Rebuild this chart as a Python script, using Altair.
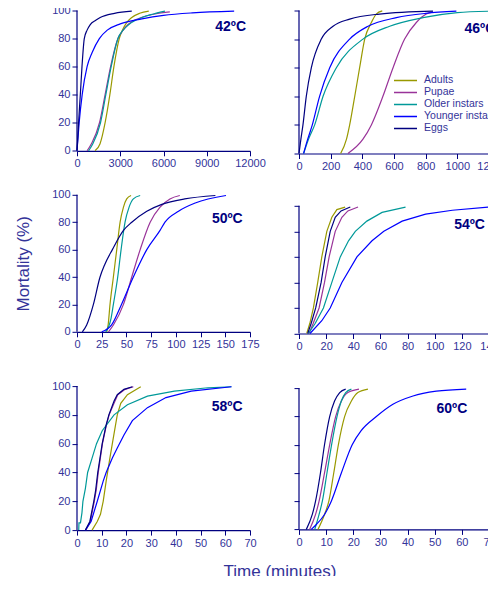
import altair as alt
import pandas as pd

STAGES = ["Adults", "Pupae", "Older instars", "Younger instars", "Eggs"]
STAGE_COLORS = ["#999900", "#993399", "#009999", "#0000FF", "#000080"]

# ---- 42 C (time in minutes) ----
P42_ADULTS = [(1250, 0), (1600, 5), (1950, 20), (2280, 40), (2560, 60), (2930, 80), (3150, 86), (3420, 91), (3800, 95), (4350, 98), (4980, 99.5)]
P42_PUPAE = [(700, 0), (1000, 5), (1560, 20), (1950, 40), (2330, 60), (2840, 80), (3200, 86), (3540, 90), (4460, 95), (5400, 97.5), (6440, 99)]
P42_OLDER = [(800, 0), (1100, 5), (1630, 20), (2000, 40), (2370, 60), (2840, 80), (3200, 86), (3600, 90), (4500, 95), (5300, 97.5), (6100, 99.5)]
P42_YOUNGER = [(0, 0), (150, 20), (360, 40), (700, 60), (1050, 70), (1550, 80), (2100, 86), (3000, 90.5), (4500, 94), (6000, 96.5), (8000, 98.3), (10900, 99.5)]
P42_EGGS = [(0, 0), (60, 10), (110, 20), (230, 40), (346, 60), (505, 80), (700, 86), (920, 90), (1300, 93), (1610, 95), (2600, 98), (3800, 99.5)]

# ---- 46 C ----
P46_ADULTS = [(263, 0), (300, 10), (320, 20), (352, 40), (383, 60), (415, 80), (457, 91.6), (488, 97.5), (526, 99.7)]
P46_PUPAE = [(309, 0), (404, 10), (457, 20), (530, 40), (594, 60), (667, 80), (741, 91.6), (804, 97.5), (846, 99)]
P46_OLDER = [(29, 0), (60, 10), (99, 20), (152, 40), (236, 60), (404, 80), (573, 89), (783, 95), (1000, 98.5), (1200, 99.5)]
P46_YOUNGER = [(29, 0), (55, 10), (84, 20), (130, 40), (194, 60), (320, 80), (436, 89), (615, 95), (800, 98), (994, 99.5)]
P46_EGGS = [(0, 0), (12, 10), (25, 20), (46, 40), (78, 60), (141, 80), (215, 89), (320, 94), (509, 97.5), (846, 99.5)]

# ---- 50 C ----
P50_ADULTS = [(30, 0), (31.5, 5), (33.4, 20), (36.8, 40), (40.2, 60), (43.6, 80), (47, 91), (50.3, 97), (54.7, 99.5)]
P50_PUPAE = [(31.8, 0), (36.8, 5), (47, 20), (55.4, 40), (63.9, 60), (74, 80), (84, 91), (94, 97), (104, 99.5)]
P50_OLDER = [(29, 0), (34.5, 10), (36.8, 20), (41.2, 40), (44.6, 60), (48.6, 80), (52.7, 91), (57, 97), (63.9, 99.5)]
P50_YOUNGER = [(25, 0), (35, 5), (45, 20), (57, 40), (70.6, 60), (84, 74), (89, 80), (102.7, 88), (119.6, 94), (150.7, 99.5)]
P50_EGGS = [(5.4, 0), (9.8, 5), (16.6, 20), (23.3, 40), (28, 49), (35.8, 60), (47, 74), (55.4, 80), (70.6, 88), (85.8, 93), (109, 97), (140, 99.5)]

# ---- 54 C ----
P54_ADULTS = [(5.7, 0), (8, 8), (10.6, 20), (13.8, 40), (16.8, 60), (20.5, 80), (24.2, 91), (27.9, 97), (34, 99)]
P54_PUPAE = [(7.4, 0), (10.5, 8), (14.8, 20), (18.8, 40), (22.2, 60), (26.7, 80), (31.6, 91), (36, 96), (43.5, 99)]
P54_OLDER = [(6.9, 0), (12, 8), (18, 20), (24.2, 40), (30.4, 60), (36.5, 72.6), (41.5, 80), (50, 88), (61.2, 94.8), (78.5, 99)]
P54_YOUNGER = [(8.1, 0), (16.8, 10), (23, 20), (31.6, 40), (42.7, 60), (53.8, 72.6), (62.5, 80), (76, 88), (93.3, 93.5), (113, 96.5), (140, 99)]
P54_EGGS = [(6.4, 0), (9, 8), (12.3, 20), (16.3, 40), (19.3, 60), (23, 80), (26.7, 91), (31, 96), (37.8, 99)]

# ---- 58 C ----
P58_ADULTS = [(6.1, 0), (8.2, 6), (9.5, 11), (10.6, 20), (11.8, 34), (13.3, 50), (14.3, 60), (15.6, 73), (16.3, 80), (17.7, 88), (20.4, 94), (25.8, 99.5)]
P58_PUPAE = [(3.6, 0), (5.4, 6), (7.0, 20), (7.8, 28), (8.6, 40), (10.3, 60), (11.9, 73), (13, 80), (15.2, 89), (16.5, 94), (19.2, 97.5), (22.8, 99.5)]
P58_OLDER = [(0.7, 0), (0.8, 5), (1.4, 5), (2.0, 12), (2.4, 20), (3.4, 29), (4.3, 40), (6.1, 50), (7.9, 60), (10.2, 69), (15, 80), (20.4, 87), (28.5, 93), (39.4, 96.5), (53, 98.8), (62.5, 99.5)]
P58_YOUNGER = [(3.4, 0), (5.7, 6), (8.2, 20), (10.6, 34), (11.8, 40), (14.3, 50), (16.3, 57), (19, 66), (22.4, 76), (28.5, 85), (36, 92), (46.2, 96.5), (62.5, 99.5)]
P58_EGGS = [(3.4, 0), (5.2, 6), (6.8, 20), (7.5, 27), (8.4, 40), (10.2, 60), (11.8, 73), (12.9, 80), (15, 89.6), (16.3, 94), (19, 97.7), (22.4, 99.5)]

# ---- 60 C ----
P60_ADULTS = [(7, 0), (9.4, 10.6), (11, 20), (12.8, 40), (14.5, 60), (16.8, 80), (19.3, 91), (21.7, 97), (25.4, 99.5)]
P60_PUPAE = [(3.9, 0), (6.1, 10.6), (7.4, 20), (9.4, 40), (11.3, 60), (13.5, 80), (15.6, 91), (18, 97), (22.1, 99.5)]
P60_OLDER = [(5.8, 0), (7.4, 10.6), (8.6, 20), (10.3, 40), (12, 60), (14, 80), (15.6, 91), (17.2, 97), (19.3, 99.5)]
P60_YOUNGER = [(4.5, 0), (6.4, 3.5), (9.4, 10.6), (11.9, 20), (15.6, 40), (19.6, 60), (22.9, 70), (28.5, 80), (34.6, 88.7), (42, 94.6), (50.6, 98), (61.6, 99.5)]
P60_EGGS = [(2.7, 0), (4.9, 10.6), (6.1, 20), (7.9, 40), (9.4, 60), (11.3, 80), (13.1, 91), (15, 97), (17.2, 99.5)]

Y_TICKS = [0, 20, 40, 60, 80, 100]

AXIS_COLOR = "#000080"
LABEL_COLOR = "#333399"
TITLE_COLOR = "#000080"
FONT = "Liberation Sans"

color_scale = alt.Scale(domain=STAGES, range=STAGE_COLORS)

LEGEND = alt.Legend(title=None, orient="none", legendX=316, legendY=64,
                    symbolType="stroke", symbolSize=529, symbolStrokeWidth=1.5,
                    labelFontSize=10.5, labelColor=LABEL_COLOR, labelFont=FONT,
                    labelOffset=6, padding=0, rowPadding=0, clipHeight=11.8)


def make_df(curves):
    rows = []
    for stage, pts in zip(STAGES, curves):
        for i, (t, m) in enumerate(pts):
            rows.append({"stage": stage, "t": t, "m": m, "order": i})
    return pd.DataFrame(rows)


def panel(curves, xmax, xstep, label, label_t, label_m, w, h, ymax, show_ylabels,
          interp="monotone", ytitle=None):
    df = make_df(curves)
    xscale = alt.Scale(domain=[0, xmax], nice=False, zero=True)
    yscale = alt.Scale(domain=[0, ymax], nice=False)
    xaxis = alt.Axis(values=list(range(0, xmax + 1, xstep)), title=None,
                     format="d", labelOverlap=False, labelFlush=False)
    yaxis_kw = dict(values=Y_TICKS, labels=show_ylabels, format="d", domain=False,
                    labelFlush=False)
    if ytitle:
        yaxis_kw.update(title=ytitle, titleFontSize=17, titleFont=FONT,
                        titleColor=LABEL_COLOR, titleFontWeight="normal",
                        titlePadding=19)
    else:
        yaxis_kw.update(title=None)
    yaxis = alt.Axis(**yaxis_kw)
    color = alt.Color("stage:N", scale=color_scale, legend=LEGEND)
    lines = (
        alt.Chart(df)
        .mark_line(interpolate=interp, strokeWidth=1.2)
        .encode(x=alt.X("t:Q", scale=xscale, axis=xaxis),
                y=alt.Y("m:Q", scale=yscale, axis=yaxis),
                color=color, order="order:Q")
    )
    yline = alt.Chart().mark_rule(color=AXIS_COLOR, strokeWidth=1.2).encode(
        x=alt.XDatum(0, type="quantitative", axis=xaxis),
        y=alt.YDatum(0, type="quantitative", axis=yaxis),
        y2=alt.Y2Datum(100))
    label_mark = alt.Chart().mark_text(
        text=label, align="right", baseline="middle", fontSize=14,
        fontWeight="bold", font=FONT, color=TITLE_COLOR
    ).encode(x=alt.XDatum(label_t, type="quantitative", axis=xaxis),
             y=alt.YDatum(label_m, type="quantitative", axis=yaxis))
    return alt.layer(lines, yline, label_mark).properties(width=w, height=h)


LW, RW = 173, 190

p42 = panel([P42_ADULTS, P42_PUPAE, P42_OLDER, P42_YOUNGER, P42_EGGS], 12000, 3000,
            "42ºC", 11723, 87.9, LW, 140.3, 100, True)
p46 = panel([P46_ADULTS, P46_PUPAE, P46_OLDER, P46_YOUNGER, P46_EGGS], 1200, 200,
            "46ºC", 1240, 87, RW, 143, 100, False)
p50 = panel([P50_ADULTS, P50_PUPAE, P50_OLDER, P50_YOUNGER, P50_EGGS], 175, 25,
            "50ºC", 167.6, 82.7, LW, 137, 100, True, ytitle="Mortality (%)")
p54 = panel([P54_ADULTS, P54_PUPAE, P54_OLDER, P54_YOUNGER, P54_EGGS], 140, 20,
            "54ºC", 137, 84.9, RW, 138.7, 108.6, False, interp="linear")
p58 = panel([P58_ADULTS, P58_PUPAE, P58_OLDER, P58_YOUNGER, P58_EGGS], 70, 10,
            "58ºC", 67, 85.6, LW, 155, 107.6, True, interp="linear")
p60 = panel([P60_ADULTS, P60_PUPAE, P60_OLDER, P60_YOUNGER, P60_EGGS], 70, 10,
            "60ºC", 62, 85.1, RW, 154.3, 109.4, False)

chart = (
    alt.concat(p42, p46, p50, p54, p58, p60, columns=2, bounds="flush",
               spacing={"row": 41.3, "column": 49},
               title=alt.TitleParams("Time (minutes)", orient="bottom", anchor="middle",
                                     fontSize=17, fontWeight="normal",
                                     font=FONT, color=LABEL_COLOR, offset=15.5, dx=22))
    .resolve_scale(color="shared")
    .properties(padding={"left": 6, "top": -3.5, "right": -14, "bottom": -5})
    .configure_view(stroke=None)
    .configure_axis(grid=False, domainColor=AXIS_COLOR, tickColor=AXIS_COLOR,
                    labelColor=LABEL_COLOR, labelFont=FONT, labelFontSize=11,
                    tickSize=5, labelPadding=2, domainWidth=1.2, tickWidth=1)
)

chart.save("out.html", embed_options={"renderer": "svg", "actions": False})
